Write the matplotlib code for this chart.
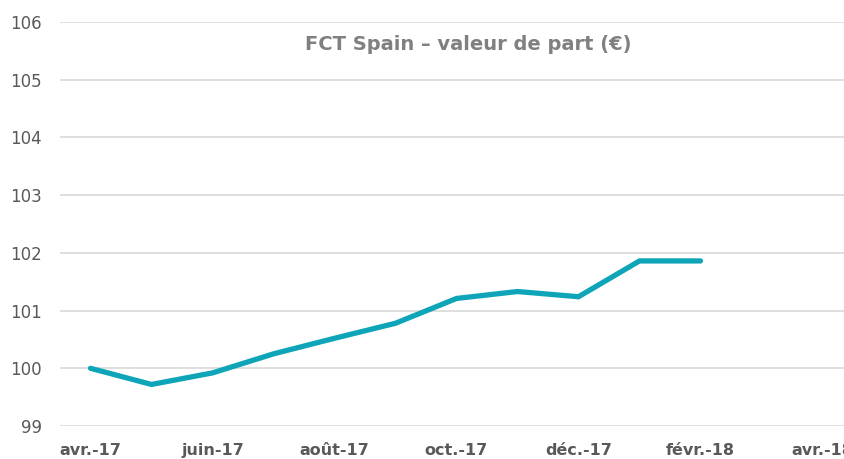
import matplotlib.pyplot as plt
import numpy as np

# month labels (one per month, labels shown every 2 months)
mois = ["avr.-17", "mai-17", "juin-17", "juil.-17", "août-17", "sept.-17",
        "oct.-17", "nov.-17", "déc.-17", "janv.-18", "févr.-18", "mars-18", "avr.-18"]
valeur = [100.00, 99.72, 99.92, 100.25, 100.52, 100.78,
          101.21, 101.33, 101.24, 101.86, 101.86]
yticks = [99, 100, 101, 102, 103, 104, 105, 106]
titre = "FCT Spain – valeur de part (€)"

plt.rcParams['font.family'] = ['DejaVu Sans']

fig = plt.figure(figsize=(8.44, 4.59), dpi=100)
ax = fig.add_axes([60 / 844, 1 - 426 / 459, 793 / 844, (426 - 22) / 459])

x = np.arange(len(valeur))
ax.plot(x, valeur, color='#0EA5B9', linewidth=3.8, solid_capstyle='round',
        solid_joinstyle='miter', zorder=3)

ax.set_xlim(-0.5, len(mois) - 0.5)
ax.set_ylim(99, 106)
ax.set_yticks(yticks)
ax.set_yticklabels([str(v) for v in yticks])
ax.set_xticks(np.arange(0, len(mois), 2))
ax.set_xticklabels(mois[::2], fontweight='bold')

ax.grid(axis='y', color='#d9d9d9', linewidth=1.2)
ax.set_axisbelow(True)
for s in ax.spines.values():
    s.set_visible(False)
ax.tick_params(axis='y', length=0, pad=13, labelsize=12, labelcolor='#595959')
ax.tick_params(axis='x', length=0, pad=12, labelsize=11.5, labelcolor='#595959')

fig.text(468 / 844, 1 - 44 / 459, titre,
         ha='center', va='center', fontsize=14, fontweight='bold', color='#808080')

fig.savefig('out.png', dpi=100)
